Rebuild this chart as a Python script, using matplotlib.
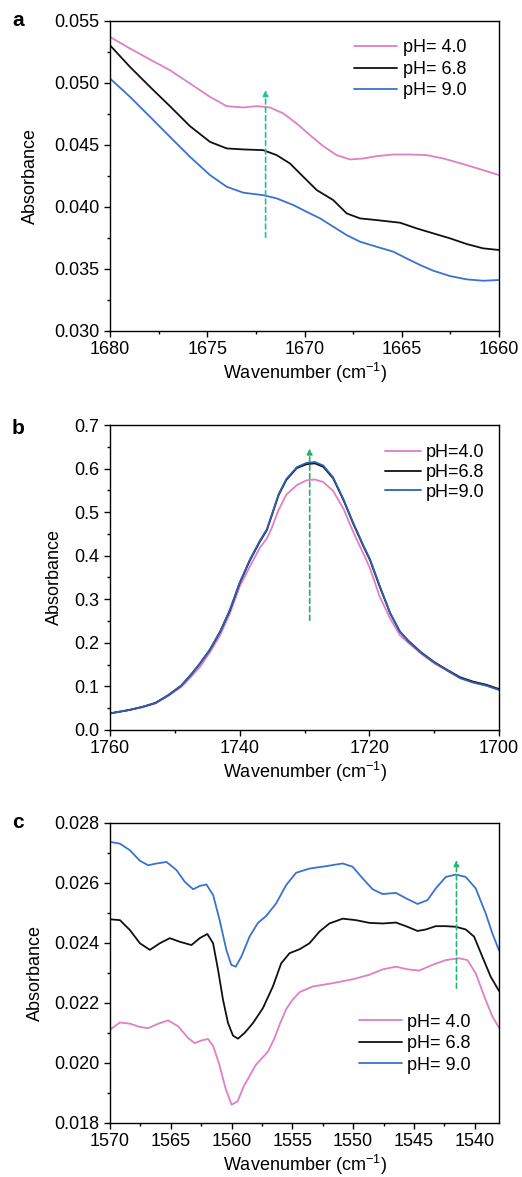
import matplotlib.pyplot as plt
from matplotlib.ticker import MultipleLocator

plt.rcParams['font.family'] = ['Liberation Sans', 'DejaVu Sans']
plt.rcParams['font.size'] = 13
plt.rcParams['mathtext.default'] = 'regular'

# ---- panel a: 1680-1660 cm-1
wa4 = [1680, 1678.97, 1677.94, 1676.92, 1675.89, 1674.86, 1674.0, 1673.14, 1672.46, 1671.77, 1671.09, 1670.4,
       1669.72, 1669.03, 1668.35, 1667.66, 1666.98, 1666.29, 1665.43, 1664.58, 1663.72, 1662.86, 1661.83, 1660.81, 1660]
a4 = [0.05371, 0.05278, 0.05189, 0.05103, 0.04996, 0.04888, 0.04813, 0.04802, 0.04813, 0.04802, 0.04754, 0.04673,
      0.04579, 0.0449, 0.04418, 0.04383, 0.04391, 0.0441, 0.04423, 0.04423, 0.04418, 0.04391, 0.04345, 0.04297, 0.04257]
wa68 = [1680, 1678.97, 1677.94, 1676.92, 1675.89, 1674.86, 1674.0, 1673.14, 1672.12, 1671.43, 1670.75, 1670.06,
        1669.37, 1668.52, 1667.83, 1667.15, 1666.29, 1665.09, 1664.23, 1663.38, 1662.52, 1661.66, 1660.81, 1660]
a68 = [0.05304, 0.05129, 0.04968, 0.04813, 0.04652, 0.04525, 0.04472, 0.04464, 0.04458, 0.04418, 0.04351, 0.04243,
       0.04136, 0.04055, 0.03948, 0.03908, 0.03894, 0.03873, 0.03827, 0.03787, 0.03747, 0.03701, 0.03666, 0.03653]
wa9 = [1680, 1678.97, 1677.94, 1676.92, 1675.89, 1674.86, 1674.0, 1673.14, 1672.12, 1671.43, 1670.57, 1669.89,
       1669.2, 1668.52, 1667.83, 1667.15, 1666.29, 1665.43, 1664.75, 1664.06, 1663.38, 1662.52, 1661.66, 1660.81, 1660]
a9 = [0.05036, 0.04888, 0.04727, 0.04566, 0.04405, 0.04257, 0.04163, 0.04115, 0.04095, 0.04069, 0.04015, 0.03961,
      0.03908, 0.03841, 0.03773, 0.0372, 0.03679, 0.03639, 0.03585, 0.03532, 0.03486, 0.03443, 0.03416, 0.03405, 0.03411]

# ---- panel b: 1760-1700 cm-1
wb = [1760, 1757, 1755, 1753, 1751, 1749, 1747.5, 1746.1, 1744.6, 1743.0, 1741.5, 1740.0, 1738.4, 1736.9, 1735.8,
      1735.1, 1734.0, 1732.8, 1731.2, 1729.7, 1728.4, 1727.1, 1725.6, 1724.0, 1722.5, 1720.9, 1719.9, 1718.4,
      1716.8, 1715.3, 1714, 1712, 1710, 1708, 1706, 1704, 1702, 1700]
b68 = [0.038, 0.046, 0.053, 0.062, 0.080, 0.102, 0.127, 0.153, 0.184, 0.226, 0.275, 0.337, 0.390, 0.432, 0.459,
       0.490, 0.539, 0.574, 0.601, 0.610, 0.612, 0.604, 0.578, 0.528, 0.474, 0.421, 0.390, 0.329,
       0.268, 0.226, 0.205, 0.178, 0.156, 0.138, 0.121, 0.111, 0.104, 0.094]
b9 = [0.038, 0.046, 0.053, 0.062, 0.080, 0.102, 0.127, 0.153, 0.184, 0.226, 0.276, 0.338, 0.392, 0.434, 0.461,
      0.492, 0.541, 0.576, 0.603, 0.613, 0.615, 0.607, 0.580, 0.530, 0.476, 0.423, 0.392, 0.331,
      0.269, 0.226, 0.204, 0.177, 0.155, 0.137, 0.119, 0.109, 0.102, 0.092]
b4 = [0.038, 0.046, 0.052, 0.061, 0.078, 0.099, 0.122, 0.145, 0.178, 0.218, 0.268, 0.329, 0.376, 0.418, 0.440,
      0.462, 0.505, 0.540, 0.562, 0.573, 0.575, 0.569, 0.549, 0.508, 0.455, 0.404, 0.371, 0.306,
      0.256, 0.218, 0.200, 0.175, 0.153, 0.136, 0.119, 0.109, 0.102, 0.092]

# ---- panel c: 1570-1538 cm-1
wc9 = [1570, 1569.18, 1568.36, 1567.54, 1566.86, 1566.17, 1565.35, 1564.53, 1563.85, 1563.16, 1562.62, 1562.07,
       1561.52, 1560.98, 1560.43, 1560.02, 1559.66, 1559.2, 1558.52, 1557.83, 1557.15, 1556.33, 1555.51, 1554.69,
       1553.59, 1552.22, 1550.86, 1550.04, 1549.21, 1548.4, 1547.57, 1546.48, 1545.66, 1544.7, 1543.88, 1543.2,
       1542.38, 1541.56, 1540.74, 1539.92, 1539.1, 1538.55, 1538.0]
c9 = [0.02737, 0.02731, 0.02709, 0.02674, 0.02659, 0.02665, 0.0267, 0.02643, 0.02604, 0.02579, 0.0259, 0.02595,
      0.0256, 0.02476, 0.02377, 0.02327, 0.02321, 0.02354, 0.02421, 0.02467, 0.0249, 0.02532, 0.02593, 0.02634,
      0.02648, 0.02656, 0.02665, 0.02654, 0.02615, 0.02579, 0.02563, 0.02567, 0.02549, 0.0253, 0.02543, 0.02582,
      0.0262, 0.02628, 0.0262, 0.02582, 0.02499, 0.02432, 0.02375]
wc68 = [1570, 1569.18, 1568.36, 1567.54, 1566.72, 1565.9, 1565.08, 1564.26, 1563.3, 1562.62, 1561.99, 1561.52,
        1561.11, 1560.7, 1560.29, 1559.88, 1559.47, 1558.93, 1558.24, 1557.42, 1556.6, 1555.92, 1555.23, 1554.41,
        1553.59, 1552.77, 1551.95, 1550.86, 1549.76, 1548.67, 1547.57, 1546.48, 1545.66, 1544.7, 1544.02, 1543.2,
        1542.38, 1541.56, 1540.74, 1540.05, 1539.37, 1538.69, 1538.0]
c68 = [0.02479, 0.02476, 0.02443, 0.02399, 0.02377, 0.02399, 0.02416, 0.02404, 0.02393, 0.02416, 0.0243, 0.02399,
       0.0231, 0.0221, 0.02133, 0.02091, 0.02081, 0.021, 0.02133, 0.02183, 0.02255, 0.02332, 0.02366, 0.02379,
       0.02399, 0.02438, 0.02465, 0.02481, 0.02476, 0.02467, 0.02465, 0.02468, 0.02456, 0.0244, 0.02445, 0.02456,
       0.02456, 0.02454, 0.02445, 0.02421, 0.02354, 0.02288, 0.0224]
wc4 = [1570, 1569.18, 1568.36, 1567.54, 1566.86, 1566.03, 1565.21, 1564.39, 1563.57, 1563.03, 1562.48, 1561.93,
       1561.5, 1561, 1560.5, 1560, 1559.5, 1559, 1558, 1557, 1556.5, 1556, 1555.5, 1555, 1554.41, 1553.32, 1551.68,
       1550.04, 1548.67, 1547.57, 1546.48, 1545.52, 1544.57, 1543.47, 1542.38, 1541.29, 1540.6, 1539.92, 1539.1,
       1538.55, 1538.0]
c4 = [0.02111, 0.02135, 0.02131, 0.0212, 0.02116, 0.02131, 0.02142, 0.02122, 0.02083, 0.02066, 0.02075, 0.0208,
      0.02055, 0.01994, 0.01916, 0.01861, 0.01872, 0.01922, 0.01994, 0.02038, 0.0208, 0.02133, 0.0218, 0.0221,
      0.02236, 0.02255, 0.02266, 0.02279, 0.02294, 0.02312, 0.02321, 0.02312, 0.02308, 0.02327, 0.02343, 0.02349,
      0.02343, 0.02299, 0.0221, 0.02155, 0.02118]

# arrows: (wavenumber, start, end)
arr_a = (1672.0, 0.03755, 0.04942)
arr_b = (1729.2, 0.252, 0.646)
arr_c = (1541.5, 0.02249, 0.02676)

pink = '#E07EC8'
black = '#111111'
blue = '#3A72D0'

fig = plt.figure(figsize=(5.22, 11.77), dpi=100)
axa = fig.add_axes([0.2107, 0.7188, 0.7453, 0.2634])
axb = fig.add_axes([0.2107, 0.3798, 0.7453, 0.2591])
axc = fig.add_axes([0.2107, 0.0459, 0.7453, 0.2549])


def style(ax, xlim, ylim, xmaj, xmin, ymaj, ymin, fmt, ypad):
    ax.set_xlim(*xlim)
    ax.set_ylim(*ylim)
    ax.xaxis.set_major_locator(MultipleLocator(xmaj))
    ax.xaxis.set_minor_locator(MultipleLocator(xmin))
    ax.yaxis.set_major_locator(MultipleLocator(ymaj))
    ax.yaxis.set_minor_locator(MultipleLocator(ymin))
    ax.yaxis.set_major_formatter(plt.FormatStrFormatter(fmt))
    ax.tick_params(which='both', direction='out', top=False, right=False, labelsize=13)
    ax.tick_params(which='major', length=4, width=1)
    ax.tick_params(which='minor', length=2.5, width=1)
    for s in ax.spines.values():
        s.set_linewidth(1.0)
    ax.set_xlabel('Wavenumber (cm$^{-1}$)', fontsize=13, labelpad=2)
    ax.set_ylabel('Absorbance', fontsize=13, labelpad=ypad)


def arrow(ax, a, col):
    ax.annotate('', xy=(a[0], a[2]), xytext=(a[0], a[1]),
                arrowprops=dict(arrowstyle='-|>', color=col, lw=1.2, ls=(0, (3, 2)),
                                mutation_scale=8, shrinkA=0, shrinkB=0))


kw = dict(lw=1.3, solid_joinstyle='round', solid_capstyle='round')

# panel a
axa.plot(wa4, a4, color=pink, label='pH= 4.0', **kw)
axa.plot(wa68, a68, color=black, label='pH= 6.8', **kw)
axa.plot(wa9, a9, color=blue, label='pH= 9.0', **kw)
arrow(axa, arr_a, '#1FC2A0')
style(axa, (1680, 1660), (0.030, 0.055), 5, 2.5, 0.005, 0.0025, '%.3f', 11)
axa.legend(loc='upper right', bbox_to_anchor=(0.958, 0.993), frameon=False,
           handlelength=2.4, handletextpad=0.3, labelspacing=0.25, fontsize=13)

# panel b
axb.plot(wb, b4, color=pink, label='pH=4.0', **kw)
axb.plot(wb, b68, color=black, label='pH=6.8', **kw)
axb.plot(wb, b9, color='#2F60B0', label='pH=9.0', **kw)
arrow(axb, arr_b, '#22B060')
style(axb, (1760, 1700), (0.0, 0.7), 20, 10, 0.1, 0.05, '%.1f', 8.5)
axb.legend(loc='upper right', bbox_to_anchor=(1.005, 0.99), frameon=False,
           handlelength=2.0, handletextpad=0.3, labelspacing=0.15, fontsize=13)

# panel c
axc.plot(wc4, c4, color=pink, label='pH= 4.0', **kw)
axc.plot(wc68, c68, color=black, label='pH= 6.8', **kw)
axc.plot(wc9, c9, color=blue, label='pH= 9.0', **kw)
arrow(axc, arr_c, '#22B870')
style(axc, (1570, 1538), (0.018, 0.028), 5, 2.5, 0.002, 0.001, '%.3f', 7.5)
axc.legend(loc='lower right', bbox_to_anchor=(0.97, 0.11), frameon=False,
           handlelength=2.4, handletextpad=0.3, labelspacing=0.25, fontsize=13)

for lab, y in (('a', 21), ('b', 428), ('c', 822)):
    fig.text(18 / 522, 1 - y / 1177, lab, fontsize=15, fontweight='bold', ha='center', va='center')

fig.savefig('out.png', dpi=100)
